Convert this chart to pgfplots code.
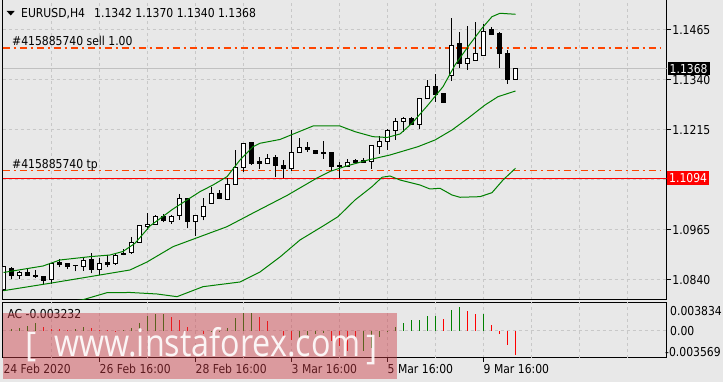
\documentclass[border=0pt]{standalone}
\usepackage{graphicx}
\usepackage{pgfplots}
\pgfplotsset{compat=1.18}
\usepackage{pgfplotstable}
\usepackage{fontspec}
\setmainfont{DejaVu Sans}[FakeStretch=0.88]
\newfontfamily\wmfont{Open Sans}
\newcommand\lbl{\fontsize{12.3}{14}\selectfont}
\definecolor{bg}{RGB}{232,232,232}
\definecolor{gridc}{RGB}{200,200,200}
\definecolor{curc}{RGB}{192,192,192}
\definecolor{mtgreen}{RGB}{0,128,0}
\definecolor{mtred}{RGB}{255,0,0}
\definecolor{ordc}{RGB}{255,69,0}
\definecolor{wm}{RGB}{205,60,70}

\pgfplotstableread{
i o h l c
0 1.0815 1.0875 1.0812 1.08725
1 1.08683 1.08733 1.08418 1.08518
2 1.08518 1.08625 1.08433 1.08593
3 1.08575 1.08668 1.08513 1.08518
4 1.0850 1.08643 1.08458 1.08493
5 1.08493 1.08493 1.08283 1.08383
6 1.08418 1.08833 1.0830 1.08818
7 1.08833 1.08918 1.08718 1.08783
8 1.0880 1.08833 1.08668 1.08743
9 1.08763 1.08783 1.08618 1.08755
10 1.08743 1.08983 1.08625 1.08893
11 1.0890 1.09068 1.08568 1.0865
12 1.08668 1.08943 1.08525 1.0880
13 1.08833 1.09025 1.08718 1.08783
14 1.08818 1.09068 1.08783 1.09018
15 1.09025 1.09168 1.09013 1.09075
16 1.09093 1.09468 1.0905 1.09343
17 1.09343 1.09775 1.09325 1.09768
18 1.09733 1.10068 1.0965 1.09793
19 1.09793 1.10018 1.09783 1.09993
20 1.09993 1.1005 1.09843 1.09893
21 1.09868 1.10018 1.09808 1.09993
22 1.1000 1.10543 1.09908 1.10443
23 1.10443 1.1045 1.09693 1.09868
24 1.09868 1.10025 1.09508 1.10018
25 1.09993 1.10443 1.09893 1.10243
26 1.10318 1.10733 1.10313 1.10568
27 1.10568 1.10643 1.10418 1.10443
28 1.10408 1.10943 1.10393 1.10793
29 1.10793 1.11643 1.10788 1.11218
30 1.11218 1.11833 1.11093 1.1180
31 1.11833 1.11838 1.11275 1.11318
32 1.11358 1.11483 1.11175 1.11318
33 1.11318 1.1155 1.11293 1.11443
34 1.11468 1.11525 1.10983 1.11258
35 1.11268 1.1140 1.10958 1.11183
36 1.11183 1.1215 1.11125 1.11593
37 1.11593 1.1195 1.11588 1.11718
38 1.1170 1.1185 1.11608 1.11668
39 1.11643 1.1165 1.11543 1.11558
40 1.1158 1.11875 1.11433 1.1157
41 1.11575 1.11588 1.11125 1.11233
42 1.11255 1.1135 1.10958 1.11245
43 1.11243 1.11418 1.11238 1.11343
44 1.11383 1.11433 1.1130 1.11343
45 1.11375 1.11443 1.11325 1.11343
46 1.1135 1.11755 1.11175 1.1175
47 1.11743 1.12008 1.11558 1.11868
48 1.11868 1.12175 1.1165 1.12138
49 1.12133 1.12443 1.11908 1.12368
50 1.12368 1.12475 1.12108 1.12443
51 1.12443 1.12463 1.12275 1.12283
52 1.12293 1.1295 1.12183 1.12943
53 1.12943 1.13393 1.12938 1.13243
54 1.13225 1.1355 1.12858 1.13033
55 1.1305 1.13055 1.12828 1.12833
56 1.13518 1.14958 1.13383 1.14268
57 1.1430 1.14608 1.13708 1.13808
58 1.13818 1.14743 1.13658 1.13925
59 1.13893 1.14858 1.13888 1.1405
60 1.14008 1.14793 1.1400 1.14618
61 1.1465 1.14725 1.14525 1.14533
62 1.1455 1.14593 1.13708 1.14068
63 1.14068 1.1415 1.13308 1.13408
64 1.1342 1.1370 1.1340 1.1368
}\candles

\begin{document}
\begin{tikzpicture}[x=1pt,y=1pt]
\useasboundingbox (0,0) rectangle (723,382);
\fill[bg] (0,0) rectangle (723,382);

% ---------------- main price window
\begin{axis}[
  at={(2.5pt,383pt)}, anchor=north west,
  scale only axis, width=664.2pt, height=301pt,
  xmin=-0.125, xmax=82.9, ymin=1.079, ymax=1.15425,
  axis line style={black, line width=1pt},
  xtick={6,12,...,78}, xticklabels={}, xmajorgrids,
  ytick={1.0840,1.0965,1.1090,1.1215,1.1340,1.1465},
  yticklabels={1.0840,1.0965,,1.1215,1.1340,1.1465},
  ymajorgrids, scaled y ticks=false,
  grid style={gridc, line width=1pt, dash pattern=on 3pt off 3pt},
  ytick pos=right, yticklabel pos=right,
  tick align=outside, major tick length=4pt,
  xtick style={draw=none},
  ytick style={black, line width=1pt},
  yticklabel style={font=\lbl, inner xsep=1.5pt, anchor=west},
]
\addplot[curc, line width=1pt] coordinates {(-0.125,1.1368) (82.9,1.1368)};
\addplot[ordc, line width=1pt, dash pattern=on 7pt off 4pt on 2pt off 4pt] coordinates {(-0.125,1.11125) (82.05,1.11125)};
\addplot[mtred, line width=1.2pt] coordinates {(-0.125,1.1094) (82.9,1.1094)};
\addplot[ordc, line width=2pt, dash pattern=on 7pt off 4pt on 2pt off 4pt] coordinates {(-0.125,1.1421) (82.05,1.1421)};

\pgfplotsinvokeforeach{0,...,64}{
  \pgfplotstablegetelem{#1}{o}\of\candles \let\cO\pgfplotsretval
  \pgfplotstablegetelem{#1}{h}\of\candles \let\cH\pgfplotsretval
  \pgfplotstablegetelem{#1}{l}\of\candles \let\cL\pgfplotsretval
  \pgfplotstablegetelem{#1}{c}\of\candles \let\cC\pgfplotsretval
  \pgfmathsetmacro\cLo{min(\cO,\cC)}
  \pgfmathsetmacro\cHi{max(\cO,\cC)}
  \pgfmathtruncatemacro\cW{\cC>=\cO}
  \pgfmathsetmacro\xa{#1-0.28}
  \pgfmathsetmacro\xb{#1+0.28}
  \ifnum\cW=1 \def\cF{white}\else\def\cF{black}\fi
  \edef\doplot{\noexpand\addplot[black, line width=1pt] coordinates {(#1,\cL) (#1,\cH)};
    \noexpand\addplot[draw=black, line width=1pt, fill=\cF] coordinates {(\xa,\cLo) (\xb,\cLo) (\xb,\cHi) (\xa,\cHi)} -- cycle;}
  \doplot
}

% Bollinger bands
\addplot[mtgreen, line width=1pt] coordinates {(0,1.08588) (4.94,1.0875) (7.06,1.089) (10.81,1.08983) (13.31,1.09025) (14.94,1.09113) (16.44,1.09318) (18.31,1.0975) (21.19,1.10175) (24.56,1.10608) (26.19,1.10775) (27.94,1.10983) (29.56,1.114) (31.19,1.11733) (32.06,1.11818) (34.56,1.11913) (38.69,1.1225) (42.06,1.1225) (43.94,1.12108) (46.19,1.11983) (47.94,1.11963) (49.56,1.1205) (51.06,1.12318) (53.06,1.12775) (54.94,1.13233) (56.44,1.13775) (58.06,1.14233) (59.81,1.14693) (61.06,1.14983) (62.06,1.15068) (64,1.15043)};
\addplot[mtgreen, line width=1pt] coordinates {(0,1.08133) (5.81,1.08318) (12.06,1.08525) (15.81,1.0865) (17.94,1.0885) (21.19,1.09233) (24.56,1.09483) (27.94,1.09733) (31.44,1.101) (35.44,1.10513) (39.19,1.1095) (40.81,1.11113) (42.69,1.11238) (45.56,1.114) (48.31,1.11525) (51.81,1.11733) (53.94,1.119) (56.06,1.1215) (58.06,1.12443) (60.19,1.12775) (61.81,1.12983) (64,1.13125)};
\addplot[mtgreen, line width=1pt] coordinates {(0,1.0770) (4,1.0778) (8,1.0786) (9.81,1.0790) (12.94,1.08083) (15.81,1.08088) (19.19,1.0805) (21.69,1.07983) (24.94,1.08233) (29.56,1.0835) (32.06,1.086) (34.56,1.08975) (37.06,1.094) (39.81,1.09733) (41.81,1.09983) (43.94,1.104) (46.06,1.10733) (47.31,1.10968) (48.31,1.11) (49.56,1.109) (52.06,1.10775) (53.31,1.10675) (54.56,1.10693) (56.06,1.10525) (57.06,1.10468) (59.56,1.10483) (61.06,1.10583) (62.44,1.109) (64,1.11193)};
\end{axis}

% ---------------- AC window
\begin{axis}[
  at={(2.5pt,79.7pt)}, anchor=north west,
  scale only axis, width=664.2pt, height=55.4pt,
  xmin=-0.125, xmax=82.9, ymin=-0.003569, ymax=0.003834,
  axis line style={black, line width=1pt},
  xtick={12,24,36,48,60},
  xticklabels={26 Feb 16:00,28 Feb 16:00,3 Mar 16:00,5 Mar 16:00,9 Mar 16:00},
  xtick pos=bottom, tick align=outside, major tick length=4pt,
  xtick style={black, line width=1pt},
  xticklabel style={font=\lbl, anchor=north west, inner sep=0pt, yshift=-2pt},
  extra x ticks={6,18,30,42,54,66,72,78}, extra x tick labels={},
  extra x tick style={grid=major, major tick length=0pt},
  xmajorgrids, ymajorgrids,
  ytick={0}, yticklabels={}, ytick style={draw=none},
  scaled y ticks=false, scaled x ticks=false,
  grid style={gridc, line width=1pt, dash pattern=on 3pt off 3pt},
]
\addplot[ycomb, mtgreen, line width=1pt] coordinates {(1,0.00023) (2,0.00036) (3,0.00073) (4,0.00111) (9,0.00023) (10,0.00053) (15,0.00009) (16,0.00044) (17,0.00111) (18,0.00200) (19,0.00231) (20,0.00233) (26,-0.00020) (27,0.00005) (28,0.00036) (29,0.00178) (30,0.00236) (31,0.00245) (37,-0.00098) (38,-0.00053) (39,-0.00044) (40,-0.00023) (45,-0.00267) (46,-0.00223) (47,-0.00080) (48,-0.00013) (49,0.00057) (50,0.00107) (51,0.00147) (52,0.00151) (53,0.00200) (54,0.00204) (56,0.00285) (57,0.00321) (60,0.00231)};
\addplot[ycomb, mtred, line width=1pt] coordinates {(5,0.00057) (6,0.00023) (7,0.00020) (8,0.00013) (11,0.00044) (12,0.00012) (13,0.00009) (14,0.00005) (21,0.00191) (22,0.00147) (23,0.00057) (24,0.00000) (25,-0.00044) (32,0.00191) (33,0.00134) (34,0.00000) (35,-0.00080) (36,-0.00124) (41,-0.00134) (42,-0.00200) (43,-0.00267) (44,-0.00290) (55,0.00160) (58,0.00271) (59,0.00227) (61,0.00080) (62,-0.00036) (63,-0.00187) (64,-0.003232)};
\end{axis}

% ---------------- texts
\fill[black] (6.7,371) -- (14.7,371) -- (10.7,366.5) -- cycle;
\node[anchor=base west, inner sep=0pt, font=\lbl] at (21,364.7) {EURUSD,H4};
\node[anchor=base west, inner sep=0pt, font=\lbl] at (94,364.7) {1.1342 1.1370 1.1340 1.1368};
\node[anchor=base west, inner sep=0pt, font=\lbl] at (12,336.3) {\#415885740 sell 1.00};
\node[anchor=base west, inner sep=0pt, font=\lbl] at (12,213.3) {\#415885740 tp};
\node[anchor=base west, inner sep=0pt, font=\lbl] at (7.3,63.7) {AC -0.003232};
\node[anchor=base west, inner sep=0pt, font=\lbl] at (3.3,8) {24 Feb 2020};
\node[fill=black, text=white, anchor=west, inner xsep=2pt, inner ysep=0pt, minimum height=13pt, font=\lbl] at (667.5,313.2) {1.1368};
\node[fill=mtred, text=white, anchor=west, inner xsep=2pt, inner ysep=0pt, minimum height=14pt, font=\lbl] at (667,203.6) {1.1094};
\node[anchor=west, inner sep=0pt, font=\lbl] at (670,71.3) {0.003834};
\node[anchor=west, inner sep=0pt, font=\lbl] at (670,50.7) {0.00};
\node[anchor=west, inner sep=0pt, font=\lbl] at (665,30.3) {-0.003569};

% ---------------- watermark
\fill[wm, opacity=0.45] (3,69) rectangle (397,3);
\node[text=white, opacity=0.9, anchor=base west, inner sep=0pt, font=\wmfont\fontsize{38}{38}\selectfont] at (54,25) {\scalebox{0.85}[1]{www.instaforex.com}};
\node[text=white, opacity=0.9, anchor=base west, inner sep=0pt, font=\wmfont\fontsize{34}{34}\selectfont] at (25,25) {[};
\node[text=white, opacity=0.9, anchor=base west, inner sep=0pt, font=\wmfont\fontsize{34}{34}\selectfont] at (366,22) {]};
\end{tikzpicture}
\end{document}
